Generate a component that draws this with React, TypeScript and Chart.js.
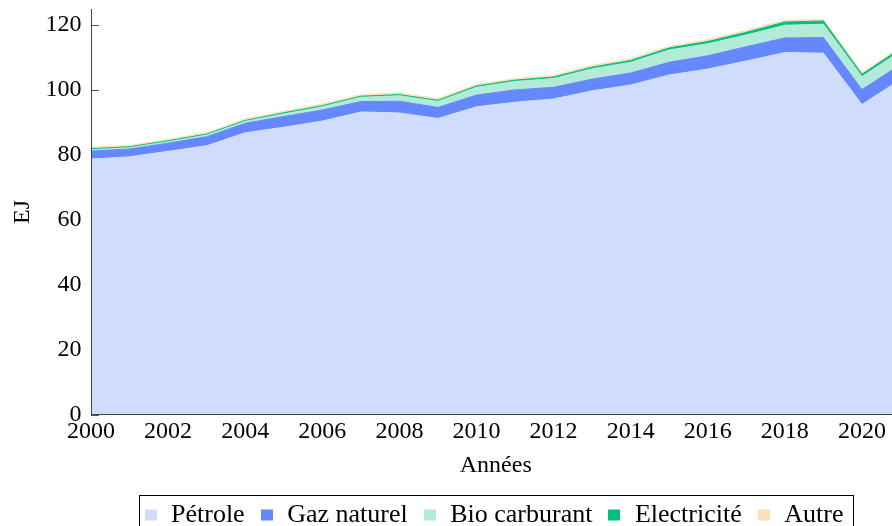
import { useEffect, useRef } from "react";
import { Chart, registerables } from "chart.js";

Chart.register(...registerables);

const years = [2000, 2001, 2002, 2003, 2004, 2005, 2006, 2007, 2008, 2009, 2010, 2011, 2012, 2013, 2014, 2015, 2016, 2017, 2018, 2019, 2020, 2021];
const petrole = [78.6, 79.3, 81.0, 82.7, 86.7, 88.4, 90.3, 93.1, 92.8, 91.1, 94.7, 96.1, 97.1, 99.6, 101.4, 104.5, 106.3, 108.8, 111.4, 111.2, 95.4, 103.1];
const gazNaturel = [2.5, 2.4, 2.5, 2.8, 2.9, 3.3, 3.4, 3.2, 3.6, 3.4, 3.6, 3.8, 3.6, 3.6, 3.7, 3.9, 4.1, 4.4, 4.5, 4.8, 4.6, 4.6];
const bioCarburant = [0.4, 0.4, 0.45, 0.5, 0.6, 0.8, 1.0, 1.3, 1.7, 1.85, 2.4, 2.6, 2.7, 3.2, 3.3, 3.8, 3.7, 3.6, 3.9, 4.1, 4.0, 4.1];
const electricite = [0.3, 0.3, 0.3, 0.3, 0.3, 0.35, 0.35, 0.35, 0.35, 0.35, 0.4, 0.4, 0.45, 0.5, 0.55, 0.6, 0.7, 0.8, 1.0, 1.0, 0.7, 0.8];
const autre = [0.5, 0.4, 0.45, 0.4, 0.5, 0.5, 0.5, 0.5, 0.5, 0.5, 0.5, 0.5, 0.5, 0.6, 0.6, 0.5, 0.6, 0.6, 0.5, 0.5, 0.6, 0.5];

const seriesNames = ["Pétrole", "Gaz naturel", "Bio carburant", "Electricité", "Autre"];
const seriesValues = [petrole, gazNaturel, bioCarburant, electricite, autre];
const seriesColors = ["#d0dcfc", "#6688ff", "#b2ecd8", "#00c080", "#fde0ba"];

const xMin = 2000;
const xMax = 2021;
const xStep = 2;
const yMin = 0;
const yMax = 124.7;
const yStep = 20;
const xTitle = "Années";
const yTitle = "EJ";

const FONT = "'Liberation Serif', 'Times New Roman', serif";

const innerTicks = {
  id: "innerTicks",
  beforeDatasetsDraw(chart: any) {
    const { ctx, chartArea, scales } = chart;
    ctx.save();
    ctx.strokeStyle = "#555";
    ctx.lineWidth = 1;
    ctx.beginPath();
    scales.y.ticks.forEach((t: any) => {
      const py = Math.round(scales.y.getPixelForValue(t.value)) + 0.5;
      ctx.moveTo(chartArea.left, py);
      ctx.lineTo(chartArea.left + 8, py);
    });
    scales.x.ticks.forEach((t: any) => {
      const px = Math.round(scales.x.getPixelForValue(t.value)) + 0.5;
      ctx.moveTo(px, chartArea.bottom);
      ctx.lineTo(px, chartArea.bottom - 8);
    });
    ctx.stroke();
    ctx.restore();
  },
};

const boxedLegend = {
  id: "boxedLegend",
  afterDraw(chart: any) {
    const { ctx, chartArea } = chart;
    const datasets = chart.data.datasets;
    ctx.save();
    ctx.font = `26px ${FONT}`;
    const markerW = 12;
    const markerH = 11;
    const gapText = 14.5;
    const gapItem = 16;
    const padL = 5;
    const padR = 10;
    const widths = datasets.map((d: any) => ctx.measureText(d.label).width);
    let total = 0;
    widths.forEach((w: number, i: number) => {
      total += markerW + gapText + w + (i > 0 ? gapItem : 0);
    });
    const boxW = Math.round(total + padL + padR);
    const center = (chartArea.left + chartArea.right) / 2;
    const boxLeft = Math.round(center - boxW / 2) + 0.5;
    const boxTop = Math.round(chartArea.bottom + 80.5) + 0.5;
    ctx.strokeStyle = "#000";
    ctx.lineWidth = 1;
    ctx.strokeRect(boxLeft, boxTop, boxW, 120);
    let x = boxLeft + padL;
    const baseline = boxTop + 26.5;
    ctx.textBaseline = "alphabetic";
    ctx.textAlign = "left";
    datasets.forEach((d: any, i: number) => {
      ctx.fillStyle = d.backgroundColor;
      ctx.fillRect(Math.round(x), baseline - 12.5, markerW, markerH);
      x += markerW + gapText;
      ctx.fillStyle = "#000";
      ctx.fillText(d.label, x, baseline);
      x += widths[i] + gapItem;
    });
    ctx.restore();
  },
};

export default function App() {
  const canvasRef = useRef<HTMLCanvasElement | null>(null);

  useEffect(() => {
    if (!canvasRef.current) return;
    const datasets = seriesNames.map((name, i) => ({
      label: name,
      data: years.map((yr, j) => ({ x: yr, y: seriesValues[i][j] })),
      backgroundColor: seriesColors[i],
      borderColor: seriesColors[i],
      borderWidth: 1,
      pointRadius: 0,
      pointHoverRadius: 0,
      tension: 0,
      fill: i === 0 ? "origin" : "-1",
    }));

    const chart = new Chart(canvasRef.current, {
      type: "line",
      data: { datasets },
      plugins: [innerTicks, boxedLegend],
      options: {
        animation: false,
        responsive: false,
        maintainAspectRatio: false,
        devicePixelRatio: 1,
        layout: { padding: { left: 0, top: 9.3, right: 14.5, bottom: 79.5 } },
        plugins: {
          legend: { display: false },
          tooltip: { enabled: false },
        },
        scales: {
          x: {
            type: "linear",
            min: xMin,
            max: xMax,
            grid: { display: false, drawTicks: false },
            border: { display: true, color: "#444", width: 1, z: 1 },
            ticks: {
              stepSize: xStep,
              includeBounds: false,
              autoSkip: false,
              maxRotation: 0,
              padding: 3,
              color: "#000",
              font: { family: FONT, size: 24 },
              callback: (v: any) => String(v),
            },
            title: {
              display: true,
              text: xTitle,
              color: "#000",
              font: { family: FONT, size: 24 },
              padding: { top: 0, bottom: 0 },
            },
            afterFit: (s: any) => {
              s.height = 66;
              s.paddingLeft = 0;
              s.paddingRight = 0;
            },
          },
          y: {
            type: "linear",
            stacked: true,
            min: yMin,
            max: yMax,
            grid: { display: false, drawTicks: false },
            border: { display: true, color: "#444", width: 1, z: 1 },
            ticks: {
              stepSize: yStep,
              includeBounds: false,
              padding: 9.5,
              color: "#000",
              font: { family: FONT, size: 24 },
              callback: (v: any) => String(v),
            },
            title: {
              display: true,
              text: yTitle,
              color: "#000",
              font: { family: FONT, size: 24 },
              padding: { top: 8.5, bottom: 0 },
            },
            afterFit: (s: any) => {
              s.width = 91;
              s.paddingTop = 0;
              s.paddingBottom = 0;
            },
          },
        },
      },
    });
    return () => chart.destroy();
  }, []);

  return (
    <div
      style={{
        position: "fixed",
        left: 0,
        top: 0,
        width: 892,
        height: 526,
        overflow: "hidden",
        background: "#fff",
      }}
    >
      <canvas ref={canvasRef} width={915} height={560} style={{ display: "block", width: 915, height: 560 }} />
    </div>
  );
}
